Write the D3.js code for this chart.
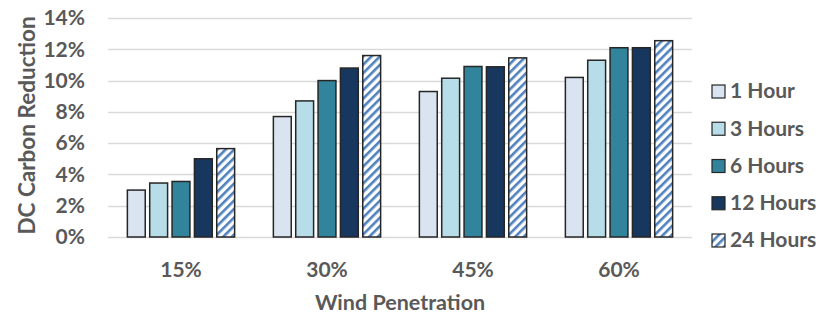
<!DOCTYPE html>
<html>
<head>
<meta charset="utf-8">
<script src="https://cdn.jsdelivr.net/npm/d3@7"></script>
<style>
  html, body { margin: 0; padding: 0; background: #fff; }
  text { font-family: Lato, "Open Sans", sans-serif; font-weight: bold; fill: #595959; }
</style>
</head>
<body>
<svg id="chart" width="831" height="330"></svg>
<script>
// data
const categories = ['15%', '30%', '45%', '60%'];
const seriesNames = ['1 Hour', '3 Hours', '6 Hours', '12 Hours', '24 Hours'];
const hour1 = [3.0, 7.7, 9.3, 10.2];
const hour3 = [3.45, 8.7, 10.15, 11.3];
const hour6 = [3.55, 10.0, 10.9, 12.1];
const hour12 = [5.0, 10.8, 10.88, 12.1];
const hour24 = [5.65, 11.6, 11.45, 12.55];
const yTicks = [0, 2, 4, 6, 8, 10, 12, 14];

const seriesValues = [hour1, hour3, hour6, hour12, hour24];
const fills = ['#DAE3F0', '#B6DDE8', '#31849B', '#17375E', 'url(#stripes)'];

const svg = d3.select('#chart');
const margin = { top: 18, left: 108, right: 139, bottom: 93 };
const width = 831 - margin.left - margin.right;
const height = 330 - margin.top - margin.bottom;

// hatch pattern for the 24 hour series
const defs = svg.append('defs');
const pat = defs.append('pattern')
  .attr('id', 'stripes')
  .attr('patternUnits', 'userSpaceOnUse')
  .attr('width', 6)
  .attr('height', 6)
  .attr('patternTransform', 'rotate(45)');
pat.append('rect').attr('width', 6).attr('height', 6).attr('fill', '#fff');
pat.append('rect').attr('width', 2.6).attr('height', 6).attr('fill', '#4F81BD');

const x0 = d3.scaleBand().domain(categories).range([0, width]).paddingInner(0.25).paddingOuter(0.125);
const x1 = d3.scaleBand().domain(seriesNames).range([0, x0.bandwidth()]).paddingInner(0.2).paddingOuter(0.05);
const y = d3.scaleLinear().domain([0, 14]).range([height, 0]);

const g = svg.append('g').attr('transform', `translate(${margin.left},${margin.top})`);

// gridlines
g.append('g')
  .selectAll('line')
  .data(yTicks)
  .join('line')
  .attr('x1', 0)
  .attr('x2', width)
  .attr('y1', d => Math.round(y(d)) + 0.5)
  .attr('y2', d => Math.round(y(d)) + 0.5)
  .attr('stroke', '#D9D9D9')
  .attr('stroke-width', 1.3);

// y tick labels
g.append('g')
  .selectAll('text')
  .data(yTicks)
  .join('text')
  .attr('x', -23)
  .attr('y', d => y(d))
  .attr('dy', '0.35em')
  .attr('text-anchor', 'end')
  .attr('font-size', 21)
  .text(d => d + '%');

// bars
const groups = g.append('g')
  .selectAll('g')
  .data(categories)
  .join('g')
  .attr('transform', d => `translate(${x0(d)},0)`);

groups.selectAll('rect')
  .data((d, i) => seriesNames.map((s, j) => ({ s, j, v: seriesValues[j][i] })))
  .join('rect')
  .attr('x', d => x1(d.s))
  .attr('y', d => y(d.v))
  .attr('width', x1.bandwidth())
  .attr('height', d => height - y(d.v))
  .attr('fill', d => fills[d.j])
  .attr('stroke', '#262626')
  .attr('stroke-width', 1.5);

// x tick labels
g.append('g')
  .selectAll('text')
  .data(categories)
  .join('text')
  .attr('x', d => x0(d) + x0.bandwidth() / 2)
  .attr('y', height + 40)
  .attr('text-anchor', 'middle')
  .attr('font-size', 21)
  .text(d => d);

// axis titles
svg.append('text')
  .attr('x', margin.left + width / 2)
  .attr('y', 310)
  .attr('text-anchor', 'middle')
  .attr('font-size', 21.5)
  .text('Wind Penetration');

svg.append('text')
  .attr('transform', `translate(35,${margin.top + height / 2 - 2}) rotate(-90)`)
  .attr('text-anchor', 'middle')
  .attr('font-size', 22.5)
  .text('DC Carbon Reduction');

// legend
const legend = svg.append('g').attr('transform', 'translate(712,0)');
const rowY = d3.scalePoint().domain(seriesNames).range([91, 240]);
const item = legend.selectAll('g')
  .data(seriesNames)
  .join('g')
  .attr('transform', d => `translate(0,${rowY(d)})`);
item.append('rect')
  .attr('x', 0)
  .attr('y', -6)
  .attr('width', 13)
  .attr('height', 13)
  .attr('fill', (d, i) => fills[i])
  .attr('stroke', '#262626')
  .attr('stroke-width', 1.2);
item.append('text')
  .attr('x', 18)
  .attr('dy', '0.35em')
  .attr('font-size', 21)
  .text(d => d);
</script>
</body>
</html>
